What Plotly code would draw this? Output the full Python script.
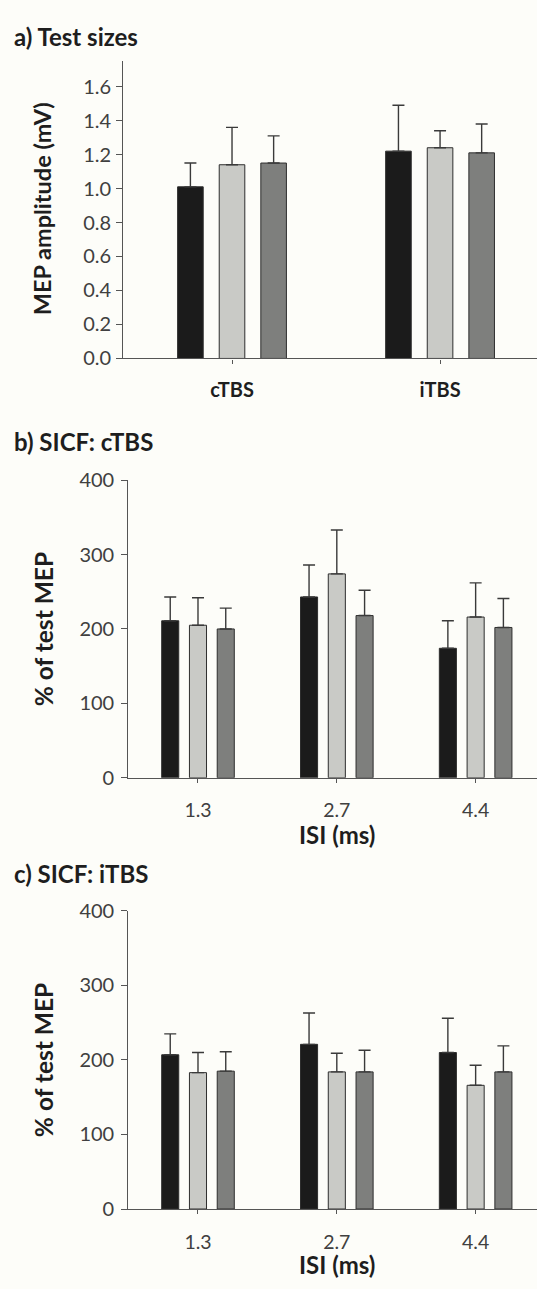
import plotly.graph_objects as go

W, H = 537, 1289

# ---------------- data ----------------
cats_a = ["cTBS", "iTBS"]
cats_isi = ["1.3", "2.7", "4.4"]

series_colors = ["#1b1b1b", "#c9cac6", "#7e7f7d"]

# panel a: test MEP sizes (mV), three conditions per protocol
a_s1 = [1.01, 1.22]
a_s2 = [1.14, 1.24]
a_s3 = [1.15, 1.21]
a_s1_err = [0.14, 0.27]
a_s2_err = [0.22, 0.10]
a_s3_err = [0.16, 0.17]

# panel b: SICF after cTBS (% of test MEP)
b_s1 = [211, 243, 174]
b_s2 = [205, 274, 216]
b_s3 = [200, 218, 202]
b_s1_err = [32, 43, 37]
b_s2_err = [37, 59, 46]
b_s3_err = [28, 34, 39]

# panel c: SICF after iTBS (% of test MEP)
c_s1 = [207, 221, 210]
c_s2 = [183, 184, 166]
c_s3 = [185, 184, 184]
c_s1_err = [28, 42, 46]
c_s2_err = [27, 25, 27]
c_s3_err = [26, 29, 35]

# ---------------- layout helpers ----------------
FONT = "Lato"
TXT = "#1e1e1e"
TICKC = "#404040"
AXC = "#555555"
BG = "#fdfdf9"

BAR_W = 0.123
STEP = 0.2


def py(px):
    return 1 - px / H


fig = go.Figure()


def add_panel(vals, errs, cats, xa, ya):
    xs = list(range(len(cats)))
    for k, (v, e) in enumerate(zip(vals, errs)):
        fig.add_trace(go.Bar(
            x=xs, y=v, xaxis=xa, yaxis=ya,
            width=BAR_W, offset=(k - 1) * STEP - BAR_W / 2,
            marker=dict(color=series_colors[k], line=dict(color="#2e2e2e", width=1)),
            error_y=dict(type="data", symmetric=False, array=e,
                         arrayminus=[0] * len(e), color="#3a3a3a",
                         thickness=1.4, width=6),
            showlegend=False, hoverinfo="skip",
        ))


add_panel([a_s1, a_s2, a_s3], [a_s1_err, a_s2_err, a_s3_err], cats_a, "x", "y")
add_panel([b_s1, b_s2, b_s3], [b_s1_err, b_s2_err, b_s3_err], cats_isi, "x2", "y2")
add_panel([c_s1, c_s2, c_s3], [c_s1_err, c_s2_err, c_s3_err], cats_isi, "x3", "y3")

xcommon = dict(showline=True, linecolor=AXC, linewidth=1.2, ticks="outside",
               ticklen=4, tickcolor=AXC, showgrid=False, zeroline=False,
               fixedrange=True)
ycommon = dict(showline=True, linecolor=AXC, linewidth=1.2, ticks="outside",
               ticklen=6, tickcolor=AXC, showgrid=False, zeroline=False,
               tickfont=dict(family=FONT, size=20, color=TICKC), fixedrange=True)

fig.update_layout(
    width=W, height=H,
    margin=dict(l=0, r=0, t=0, b=0),
    paper_bgcolor=BG, plot_bgcolor=BG,
    barmode="overlay",
    font=dict(family=FONT, color=TXT),
    xaxis=dict(**xcommon, domain=[123.3 / W, 1], anchor="y",
               range=[-0.5226, 1.466], tickvals=[0, 1], ticktext=cats_a,
               tickfont=dict(family=FONT, size=20, color=TXT, weight="bold"),
               ticklabelstandoff=9),
    yaxis=dict(**ycommon, domain=[py(352), py(49)], anchor="x",
               range=[0, 1.75], tickvals=[0, 0.2, 0.4, 0.6, 0.8, 1.0, 1.2, 1.4, 1.6],
               ticktext=["0.0", "0.2", "0.4", "0.6", "0.8", "1.0", "1.2", "1.4", "1.6"],
               ticklabelstandoff=1),
    xaxis2=dict(**xcommon, domain=[128.3 / W, 1], anchor="y2",
                range=[-0.502, 2.442], tickvals=[0, 1, 2], ticktext=cats_isi,
                tickfont=dict(family=FONT, size=19.5, color=TICKC),
                ticklabelstandoff=11),
    yaxis2=dict(**ycommon, domain=[py(779.3), py(476)], anchor="x2",
                range=[0, 400], tickvals=[0, 100, 200, 300, 400],
                ticklabelstandoff=3),
    xaxis3=dict(**xcommon, domain=[128.3 / W, 1], anchor="y3",
                range=[-0.502, 2.442], tickvals=[0, 1, 2], ticktext=cats_isi,
                tickfont=dict(family=FONT, size=19.5, color=TICKC),
                ticklabelstandoff=11),
    yaxis3=dict(**ycommon, domain=[py(1218.7), py(915)], anchor="x3",
                range=[0, 400], tickvals=[0, 100, 200, 300, 400],
                ticklabelstandoff=3),
)

anns = [
    # panel titles
    dict(text="<b>a) Test sizes</b>", x=12 / W, y=py(24), xanchor="left", yanchor="middle", size=24),
    dict(text="<b>b) SICF: cTBS</b>", x=12 / W, y=py(437), xanchor="left", yanchor="middle", size=24),
    dict(text="<b>c) SICF: iTBS</b>", x=12 / W, y=py(877), xanchor="left", yanchor="middle", size=24),
    # axis titles
    dict(text="<b>MEP amplitude (mV)</b>", x=42 / W, y=py(200), xanchor="center", yanchor="middle", size=23.5, angle=-90),
    dict(text="<b>% of test MEP</b>", x=43 / W, y=py(628), xanchor="center", yanchor="middle", size=24.5, angle=-90),
    dict(text="<b>% of test MEP</b>", x=43 / W, y=py(1067), xanchor="center", yanchor="middle", size=24.5, angle=-90),
    dict(text="<b>ISI (ms)</b>", x=337 / W, y=py(837), xanchor="center", yanchor="middle", size=24),
    dict(text="<b>ISI (ms)</b>", x=337 / W, y=py(1275), xanchor="center", yanchor="middle", size=24),
]
for a in anns:
    fig.add_annotation(text=a["text"], x=a["x"], y=a["y"], xref="paper", yref="paper",
                       xanchor=a["xanchor"], yanchor=a["yanchor"], showarrow=False,
                       textangle=a.get("angle", 0),
                       font=dict(family=FONT, size=a["size"], color=TXT))

fig.write_html("out.html")
